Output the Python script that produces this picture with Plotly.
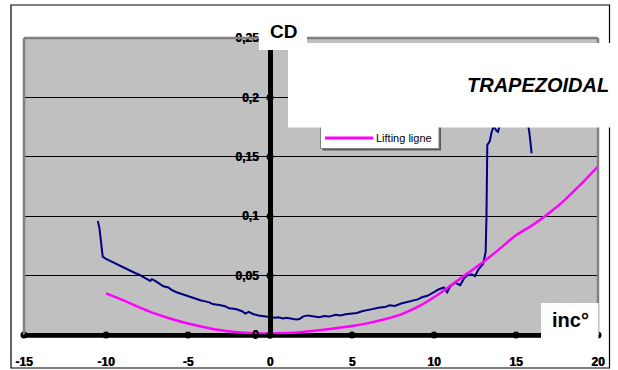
import plotly.graph_objects as go

# ---------------- data ----------------
x_ticks = [-15, -10, -5, 0, 5, 10, 15, 20]
x_tick_labels = ["-15", "-10", "-5", "0", "5", "10", "15", "20"]
y_ticks = [0, 0.05, 0.1, 0.15, 0.2, 0.25]
y_tick_labels = ["0", "0,05", "0,1", "0,15", "0,2", "0,25"]

# experimental CD curve (dark blue)
exp_inc = [-10.5, -10.4, -10.3, -10.2, -10.0, -9.7, -9.5, -9.2, -9.0, -8.7, -8.5, -8.2, -8.0,
           -7.7, -7.5, -7.3, -7.2, -7.0, -6.7, -6.5, -6.2, -6.0, -5.7, -5.5, -5.2, -5.0,
           -4.7, -4.5, -4.2, -4.0, -3.7, -3.5, -3.2, -3.0, -2.7, -2.5, -2.2, -2.0, -1.7,
           -1.5, -1.3, -1.0, -0.7, -0.5, -0.2, 0.0, 0.3, 0.5, 0.8, 1.0, 1.3, 1.6, 1.8,
           2.0, 2.3, 2.6, 3.0, 3.3, 3.6, 4.0, 4.3, 4.6, 5.0, 5.3, 5.6, 6.0, 6.3, 6.6,
           7.0, 7.3, 7.6, 8.0, 8.3, 8.6, 9.0, 9.3, 9.6, 10.0, 10.3, 10.6, 10.8, 11.0,
           11.3, 11.6, 11.8, 12.0, 12.3, 12.5, 12.7, 13.0, 13.15, 13.2, 13.22, 13.25,
           13.4, 13.5, 13.65, 13.8, 13.9, 14.0, 14.3, 14.8, 15.3, 15.7, 15.8, 15.9, 15.95]
exp_cd = [0.096, 0.090, 0.078, 0.066, 0.064, 0.062, 0.060, 0.058, 0.057, 0.055, 0.054, 0.052, 0.051,
          0.049, 0.047, 0.0455, 0.047, 0.0455, 0.043, 0.041, 0.040, 0.038, 0.036, 0.035, 0.034, 0.033,
          0.031, 0.030, 0.029, 0.0285, 0.0275, 0.026, 0.0255, 0.025, 0.024, 0.0225, 0.022, 0.0215, 0.020,
          0.018, 0.0195, 0.0175, 0.0165, 0.016, 0.0155, 0.015, 0.0145, 0.015, 0.014, 0.0145, 0.014, 0.013, 0.0135,
          0.0155, 0.0165, 0.016, 0.015, 0.016, 0.0155, 0.017, 0.0165, 0.0175, 0.018, 0.0185, 0.020, 0.0215, 0.022, 0.023,
          0.0235, 0.025, 0.0245, 0.0265, 0.0275, 0.029, 0.030, 0.032, 0.033, 0.036, 0.0385, 0.040, 0.036, 0.041,
          0.044, 0.042, 0.047, 0.050, 0.051, 0.0495, 0.055, 0.060, 0.070, 0.100, 0.140, 0.160,
          0.163, 0.170, 0.176, 0.172, 0.171, 0.176, 0.200, 0.215, 0.205, 0.180, 0.172, 0.160, 0.153]

# lifting line theory (magenta)
ll_inc = [-10, -9, -8, -7, -6, -5, -4, -3, -2, -1, 0, 1, 2, 3, 4, 5, 6, 7, 8, 9, 10,
          11, 12, 13, 14, 15, 16, 17, 18, 19, 20]
ll_cd = [0.035, 0.0295, 0.0235, 0.018, 0.0135, 0.0097, 0.0066, 0.0040, 0.0024, 0.0015, 0.0012,
         0.0016, 0.0026, 0.0040, 0.0056, 0.0075, 0.0100, 0.0132, 0.0174, 0.0236, 0.0318,
         0.0415, 0.0515, 0.0615, 0.0725, 0.0840, 0.0925, 0.1025, 0.1140, 0.1275, 0.1420]

# ---------------- layout helpers ----------------
W, H = 618, 370
L, R, T, B = 24, 20, 38, 35
PW, PH = W - L - R, H - T - B
FONT = "Arial, Liberation Sans, sans-serif"
TICKFONT = dict(family="Liberation Sans", size=12, color="black", weight=700,
                shadow="0.5px 0px 0px black")


def px(p):
    return (p - L) / PW


def py(p):
    return (H - B - p) / PH


fig = go.Figure()
# x axis line with its round tick dots (drawn first, under the curves)
fig.add_trace(go.Scatter(x=x_ticks, y=[0] * len(x_ticks), mode="lines+markers",
                         line=dict(color="#000000", width=4),
                         marker=dict(color="#000000", size=7), cliponaxis=False,
                         showlegend=False, hoverinfo="skip"))
fig.add_trace(go.Scatter(x=exp_inc, y=exp_cd, mode="lines",
                         line=dict(color="#000080", width=2), showlegend=False, hoverinfo="skip"))
fig.add_trace(go.Scatter(x=ll_inc, y=ll_cd, mode="lines",
                         line=dict(color="#FF00FF", width=2.5, shape="spline", smoothing=1),
                         showlegend=False, hoverinfo="skip"))
# y axis tick dots
fig.add_trace(go.Scatter(x=[0] * len(y_ticks), y=y_ticks, mode="markers",
                         marker=dict(color="#000000", size=7), cliponaxis=False,
                         showlegend=False, hoverinfo="skip"))

shapes = [
    # outer border
    dict(type="rect", xref="paper", yref="paper", x0=px(11), x1=px(609.5), y0=py(368), y1=py(5),
         line=dict(color="black", width=1.2), fillcolor="rgba(0,0,0,0)", layer="below"),
    # plot area frame (top, left, right)
    dict(type="line", xref="paper", yref="paper", x0=0, x1=1, y0=1, y1=1,
         line=dict(color="#808080", width=2.5), layer="above"),
    dict(type="line", xref="paper", yref="paper", x0=0, x1=0, y0=0, y1=1,
         line=dict(color="#808080", width=2.5), layer="above"),
    dict(type="line", xref="paper", yref="paper", x0=1, x1=1, y0=0, y1=1,
         line=dict(color="#808080", width=2.5), layer="above"),
    # lower half of the thick x axis line (outside the plot area)
    dict(type="rect", xref="paper", yref="paper", x0=0, x1=1, y0=py(337.5), y1=py(334.5),
         line=dict(color="#000000", width=0.5), fillcolor="#000000", layer="above"),
    # CD label box
    dict(type="rect", xref="paper", yref="paper", x0=px(259), x1=px(307), y0=py(50), y1=py(28),
         line=dict(width=0), fillcolor="white", layer="above"),
    # legend box (shadow + box)
    dict(type="rect", xref="paper", yref="paper", x0=px(322.5), x1=px(441), y0=py(150.5), y1=py(121),
         line=dict(width=0), fillcolor="#5a5a5a", layer="above"),
    dict(type="rect", xref="paper", yref="paper", x0=px(320.5), x1=px(439), y0=py(148.5), y1=py(119),
         line=dict(color="#808080", width=1), fillcolor="white", layer="above"),
    dict(type="line", xref="paper", yref="paper", x0=px(325), x1=px(373), y0=py(138), y1=py(138),
         line=dict(color="#FF00FF", width=3), layer="above"),
    # big title box
    dict(type="rect", xref="paper", yref="paper", x0=px(288), x1=px(613), y0=py(127.5), y1=py(43),
         line=dict(width=0), fillcolor="white", layer="above"),
    # inc° box
    dict(type="rect", xref="paper", yref="paper", x0=px(541), x1=px(598.5), y0=py(340), y1=py(303),
         line=dict(width=0), fillcolor="white", layer="above"),
]

annotations = [
    dict(text="<b>CD</b>", xref="paper", yref="paper", x=px(283), y=py(31.5),
         xanchor="center", yanchor="middle", showarrow=False,
         font=dict(family=FONT, size=19, color="black")),
    dict(text="<b><i>TRAPEZOIDAL</i></b>", xref="paper", yref="paper", x=px(611), y=py(85),
         xanchor="right", yanchor="middle", showarrow=False,
         font=dict(family=FONT, size=20, color="black")),
    dict(text="<b>inc°</b>", xref="paper", yref="paper", x=px(570), y=py(320),
         xanchor="center", yanchor="middle", showarrow=False,
         font=dict(family=FONT, size=20, color="black")),
    dict(text="Lifting ligne", xref="paper", yref="paper", x=px(374), y=py(138),
         xanchor="left", yanchor="middle", showarrow=False,
         font=dict(family=FONT, size=11, color="black")),
]

fig.update_layout(
    width=W, height=H,
    margin=dict(l=L, r=R, t=T, b=B, pad=0, autoexpand=False),
    paper_bgcolor="white", plot_bgcolor="#C0C0C0",
    showlegend=False,
    shapes=shapes, annotations=annotations,
    xaxis=dict(range=[-15, 20], tickvals=x_ticks, ticktext=["<b>%s</b>" % t for t in x_tick_labels],
               anchor="free", position=0, automargin=False,
               showline=False, showgrid=False, zeroline=False,
               ticks="outside", ticklen=16, tickcolor="rgba(0,0,0,0)",
               tickfont=TICKFONT),
    yaxis=dict(range=[0, 0.25], tickvals=y_ticks, ticktext=["<b>%s</b>" % t for t in y_tick_labels],
               anchor="free", position=15 / 35, automargin=False,
               showline=True, linecolor="black", linewidth=5,
               showgrid=True, gridcolor="black", gridwidth=1, zeroline=False,
               ticks="outside", ticklen=7, tickcolor="rgba(0,0,0,0)",
               tickfont=TICKFONT),
)

fig.write_html("out.html")
